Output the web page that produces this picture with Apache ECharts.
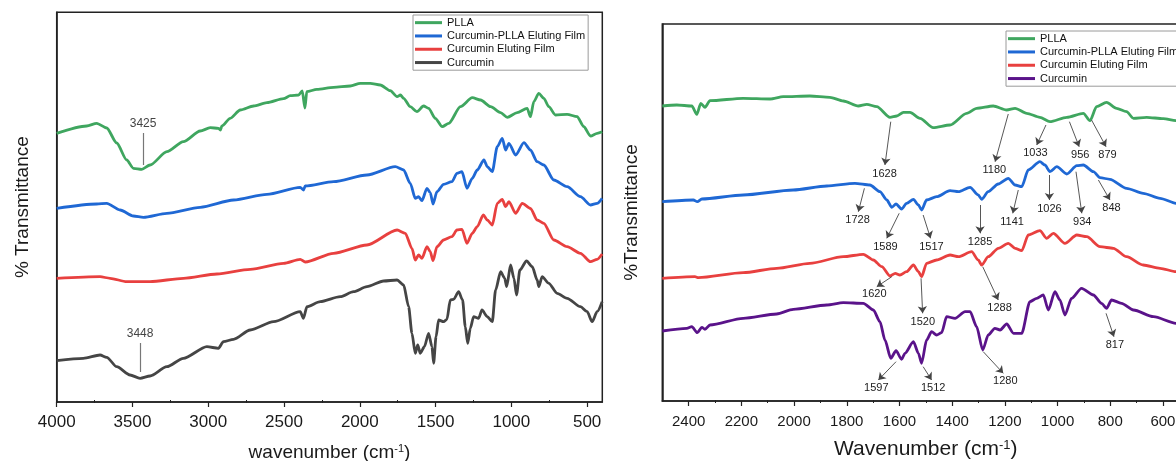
<!DOCTYPE html>
<html>
<head>
<meta charset="utf-8">
<script src="https://cdn.jsdelivr.net/npm/echarts@6/dist/echarts.min.js"></script>
<style>
html,body{margin:0;padding:0;background:#fff;}
#c{width:1176px;height:461px;}
</style>
</head>
<body>
<div id="c"></div>
<script>
// ---------- DATA (wavenumber cm-1, offset transmittance a.u.) ----------
const seriesNames = ['PLLA', 'Curcumin-PLLA Eluting Film', 'Curcumin Eluting Film', 'Curcumin'];

// Left panel (4000-400 cm-1)
const pllaL = [[4000,266.7],[3802,274],[3736,276.7],[3670,272],[3604,257],[3538,240],[3494,231.7],[3439,230.7],[3384,235],[3273,248.3],[3164,258.3],[3053,269],[2987,272.3],[2933,271.7],[2920,270],[2910,274],[2855,281.7],[2789,290],[2701,294],[2613,297.3],[2503,301.3],[2459,304.3],[2404,305],[2380,309],[2362,292],[2350,308.3],[2283,310.7],[2173,312.7],[2063,314],[1997,316.7],[1931,316.7],[1865,315],[1799,309.3],[1754,303.3],[1732,305],[1711,301.7],[1667,293.3],[1623,288.3],[1579,294],[1546,291.7],[1502,281.7],[1456,273.3],[1413,276.7],[1336,293.3],[1258,302.3],[1203,300],[1137,293.3],[1071,287.3],[1027,282.7],[962,287.3],[896,291.7],[874,283.3],[852,298.3],[819,306.7],[786,301.7],[753,293.3],[709,285],[632,285.7],[566,283.3],[522,273.3],[478,264],[434,266.7],[401,268.3]];
const filmCPL = [[4000,191.7],[3736,196],[3670,196.7],[3582,190],[3494,184],[3428,182.7],[3273,186.7],[3053,192.7],[2833,200],[2613,205.7],[2393,212.7],[2372,210],[2360,214],[2173,218.3],[1953,225],[1766,233.3],[1711,230],[1667,216.7],[1634,201.7],[1612,203.3],[1590,199.3],[1557,211.7],[1535,207.3],[1517,196],[1491,208.3],[1447,215.7],[1392,218.3],[1359,226.7],[1326,228.3],[1293,211.7],[1258,221.7],[1225,230],[1181,240],[1159,233.3],[1126,228.3],[1093,253.3],[1060,261.7],[1038,250],[1016,256.7],[972,245],[917,257.3],[874,250],[830,238.3],[786,235],[720,220],[632,213.3],[544,203.3],[478,195],[434,196.7],[401,201.7]];
const filmCL = [[4000,121.7],[3714,123.3],[3648,121.7],[3538,118.3],[3384,118.3],[3164,121.7],[2943,126],[2723,130.7],[2503,136.7],[2393,140.7],[2360,138],[2173,146.7],[1953,155],[1754,170],[1700,166.7],[1656,151.7],[1634,140],[1612,145],[1590,141.7],[1557,153.3],[1535,148.3],[1517,139.3],[1491,153.3],[1447,160],[1392,163.3],[1359,170],[1326,170.7],[1293,156.7],[1258,166.7],[1225,173.3],[1185,185],[1159,180],[1126,175],[1093,196.7],[1060,200.7],[1038,193.3],[1016,198.3],[972,186.7],[928,196.7],[874,191.7],[830,180],[786,176.7],[720,160],[632,153.3],[544,146.7],[478,138.3],[434,140.7],[401,146]];
const curL = [[4000,39.3],[3824,41.7],[3714,45],[3670,42.7],[3604,33.3],[3516,25],[3450,21.7],[3384,24],[3273,33.3],[3164,41.7],[3009,53.3],[2933,51.7],[2900,58.3],[2833,60.7],[2723,70],[2569,78.3],[2393,88.3],[2372,81.7],[2349,93.3],[2261,98.3],[2129,103.3],[2041,108.3],[1953,113.3],[1843,119],[1754,120],[1711,115],[1678,93.3],[1656,66.7],[1634,46.7],[1618,55],[1601,46.7],[1574,53.3],[1546,66.7],[1524,53.3],[1513,36.7],[1497,63.3],[1480,80],[1447,78.3],[1425,80.7],[1403,100],[1381,100.7],[1348,108.3],[1322,100],[1304,73.3],[1288,56.7],[1271,71.7],[1249,83.3],[1216,81.7],[1194,90],[1159,83.3],[1126,78.3],[1104,110],[1071,128.3],[1044,121.7],[1031,113.3],[1005,135],[983,121.7],[966,105],[944,130],[900,139],[862,133.3],[830,120],[819,113.3],[797,123.3],[753,116.7],[698,106.7],[632,101.7],[544,93.3],[500,88.3],[467,78.3],[434,88.3],[401,98.3]];

// Right panel (2500-500 cm-1)
const pllaR = [[2500,294],[2445,295],[2388,294],[2369,285.7],[2354,296.7],[2338,292.7],[2319,299.3],[2193,301.7],[2091,301],[2041,303.3],[1940,304],[1864,302.7],[1813,299],[1756,294],[1724,295.7],[1686,293.3],[1636,282.7],[1610,284],[1585,287.7],[1560,287.7],[1522,281.7],[1472,272.3],[1408,275],[1345,286.7],[1307,291.7],[1244,294],[1193,290],[1161,291.7],[1117,286.7],[1067,282.7],[1029,278.3],[965,282.7],[902,286.7],[877,279.3],[852,293.3],[814,297.7],[776,291.7],[738,288.3],[712,281.7],[662,282.7],[599,281.3],[550,279.3],[500,278]];
const filmCPR = [[2500,198.3],[2382,200],[2367,198.3],[2350,201],[2193,205],[2003,210],[1876,214],[1769,216.7],[1712,215],[1674,208.3],[1648,200],[1629,192.7],[1613,196],[1592,191],[1573,196.7],[1547,200.7],[1528,195],[1516,190],[1497,200],[1459,203.3],[1408,209.3],[1376,208.3],[1332,212.7],[1301,205],[1288,200.7],[1263,208.3],[1225,216],[1187,221.7],[1161,215],[1136,213.3],[1111,230],[1067,238.3],[1048,235],[1029,228.3],[1003,233.3],[965,226],[927,234.3],[902,235],[864,228.3],[839,222.3],[801,220.7],[738,211.7],[675,206.7],[611,201.7],[550,196.7],[500,193]];
const filmCR = [[2500,121.7],[2376,123.3],[2363,122.3],[2193,127.3],[2066,131.7],[1940,136.7],[1813,143.3],[1737,145.7],[1699,140],[1667,133.3],[1636,124],[1616,126.7],[1598,125],[1573,128.3],[1547,135],[1528,128.3],[1516,123.3],[1497,136.7],[1459,140],[1408,145],[1376,143.3],[1326,148.3],[1301,140],[1288,135],[1263,143.3],[1225,151.7],[1187,156.7],[1161,151.7],[1136,149.3],[1111,165],[1067,169.3],[1041,161.7],[1016,166.7],[972,156.7],[927,165],[889,163.3],[839,153.3],[788,151.7],[738,143.3],[675,135],[611,131.7],[550,128.3],[500,126]];
const curR = [[2500,69],[2407,71.7],[2388,73.3],[2367,67.3],[2350,72.7],[2338,70.7],[2319,75],[2193,81.7],[2066,86],[2003,90.7],[1876,95],[1813,97.3],[1737,96.7],[1699,90],[1674,78.3],[1655,60],[1633,41.7],[1613,49.3],[1592,40.7],[1579,46.7],[1547,58.3],[1528,46.7],[1516,36.7],[1497,60],[1478,68.3],[1459,65],[1440,67.3],[1421,83.3],[1389,81.7],[1351,88.3],[1332,88.3],[1307,73.3],[1284,50],[1263,65],[1238,71.7],[1218,70],[1193,76],[1167,66.7],[1136,66.7],[1105,98.3],[1079,101.7],[1054,105],[1035,90],[1010,108.3],[991,100],[972,85],[947,101.7],[909,111.7],[864,105],[833,96.7],[814,91.7],[795,100],[757,96.7],[712,90],[636,83.3],[550,76.7],[500,74]];

// Peak annotations: [label, wn1, T1, wn2, T2]
const peaksLeft = [['3425',3430,235,3430,267],['3448',3450,28,3450,57]];
const peaksRight = [
  ['1628',1633,278.3,1655,235],['1728',1733,211.7,1756,188.3],['1589',1601,186.7,1648,161.7],
  ['1517',1510,185,1482,161.7],['1180',1187,286,1237,238.3],['1033',1044,275,1079,255],
  ['956',955,278.3,918,253.3],['879',871,280,816,253.3],['1141',1149,210,1170,186.7],
  ['1026',1031,225,1031,200],['934',930,228.3,908,186.7],['848',845,220,801,200],
  ['1285',1294,195,1294,166.7],['1620',1629,123.3,1686,113.3],['1520',1518,121.7,1512,86.7],
  ['1288',1284,133.3,1225,100],['1597',1613,38.3,1680,20],['1512',1510,33.3,1478,20],
  ['1280',1282,48.3,1206,26.7],['817',816,86.7,786,63.3]
];

// Axis tick values
const leftMajor = [500,1000,1500,2000,2500,3000,3500,4000];
const leftMinor = [750,1250,1750,2250,2750,3250,3750];
const rightMajor = [600,800,1000,1200,1400,1600,1800,2000,2200,2400];
const rightMinor = [700,900,1100,1300,1500,1700,1900,2100,2300];

// ---------- STYLE ----------
const colorsL = ['#3fa65f', '#1f68d4', '#e8403f', '#454545'];
const colorsR = ['#3fa65f', '#1f68d4', '#e8403f', '#5a138a'];
const FONT = 'Liberation Sans, Arial, sans-serif';

const chart = echarts.init(document.getElementById('c'), null, {renderer: 'canvas'});

function xMain(grid, min, max, ticks, fs, margin, name, nameSize, gap) {
  return {
    type: 'value', gridIndex: grid, min: min, max: max, inverse: true, position: 'bottom',
    axisLine: {show: true, onZero: false, lineStyle: {color: '#222', width: 1.5}},
    axisTick: {show: true, customValues: ticks, length: 5, lineStyle: {color: '#222', width: 1.2}},
    axisLabel: {show: true, customValues: ticks, fontSize: fs, color: '#1a1a1a', fontFamily: FONT, margin: margin,
      formatter: v => String(v)},
    splitLine: {show: false},
    name: name, nameLocation: 'middle', nameGap: gap,
    nameTextStyle: {fontSize: nameSize, color: '#1a1a1a', fontFamily: FONT,
      rich: {sup: {fontSize: Math.round(nameSize * 0.6), verticalAlign: 'top', color: '#1a1a1a', fontFamily: FONT}}}
  };
}
function xMinor(grid, min, max, ticks) {
  return {
    type: 'value', gridIndex: grid, min: min, max: max, inverse: true, position: 'bottom',
    axisLine: {show: false}, axisLabel: {show: false}, splitLine: {show: false},
    axisTick: {show: true, customValues: ticks, length: 3, lineStyle: {color: '#222', width: 1}}
  };
}
function yAx(grid, min, max, name, gap) {
  return {
    type: 'value', gridIndex: grid, min: min, max: max,
    axisLine: {show: true, lineStyle: {color: '#222', width: 1.5}},
    axisTick: {show: false}, axisLabel: {show: false}, splitLine: {show: false},
    name: name, nameLocation: 'middle', nameGap: gap, nameRotate: 90,
    nameTextStyle: {fontSize: 19, color: '#1a1a1a', fontFamily: FONT}
  };
}
function lineSeries(name, data, color, xi, yi) {
  return {
    type: 'line', name: name, data: data, xAxisIndex: xi, yAxisIndex: yi,
    showSymbol: false, symbol: 'none', smooth: 0.25, smoothMonotone: 'x',
    lineStyle: {color: color, width: 2.8}, itemStyle: {color: color},
    silent: true, animation: false, z: 3
  };
}
function annot(items, xi, yi, opts) {
  return {
    type: 'line', name: 'ann' + xi, data: [], xAxisIndex: xi, yAxisIndex: yi, silent: true, animation: false,
    markLine: {
      silent: true, animation: false, symbol: opts.symbol, symbolSize: opts.symbolSize, precision: 1,
      lineStyle: {color: opts.color, width: opts.width, type: 'solid'},
      itemStyle: {color: opts.color},
      emphasis: {disabled: true},
      label: {show: true, position: 'end', distance: opts.distance, formatter: p => p.name,
        fontSize: opts.fontSize, color: opts.textColor, fontFamily: FONT,
        align: 'center', verticalAlign: opts.vAlign},
      data: items.map(a => [{name: a[0], coord: [a[1], a[2]]}, {coord: [a[3], a[4]]}])
    }
  };
}
function legendFor(left, top, colors) {
  return {
    left: left, top: top, orient: 'vertical', icon: 'rect', itemWidth: 27, itemHeight: 3, itemGap: 0,
    padding: [1, 3, 1, 2], borderColor: '#9a9a9a', borderWidth: 1, backgroundColor: '#fff',
    selectedMode: false,
    textStyle: {fontSize: 11, lineHeight: 13.3, color: '#111', fontFamily: FONT},
    data: seriesNames.map((n, i) => ({name: n, itemStyle: {color: colors[i]}}))
  };
}

const option = {
  backgroundColor: '#fff',
  animation: false,
  grid: [
    {left: 56.7, top: 12.3, right: 573.7, bottom: 59, show: true, borderColor: '#222', borderWidth: 1.5,
      containLabel: false, outerBoundsMode: 'none'},
    {left: 662.3, top: 24, right: -13.3, bottom: 60, show: true, borderColor: '#222', borderWidth: 1.5,
      containLabel: false, outerBoundsMode: 'none'}
  ],
  legend: [legendFor(413, 15, colorsL), legendFor(1006, 31, colorsR)],
  xAxis: [
    xMain(0, 400, 4000, leftMajor, 17, 12, 'wavenumber (cm{sup|-1})', 19, 41),
    xMinor(0, 400, 4000, leftMinor),
    xMain(1, 500, 2500, rightMajor, 15, 13, 'Wavenumber (cm{sup|-1})', 21, 38),
    xMinor(1, 500, 2500, rightMinor)
  ],
  yAxis: [
    yAx(0, -2, 387.7, '% Transmittance', 24),
    yAx(1, -1, 376, '%Transmittance', 21)
  ],
  series: [
    lineSeries(seriesNames[0], pllaL, colorsL[0], 0, 0),
    lineSeries(seriesNames[1], filmCPL, colorsL[1], 0, 0),
    lineSeries(seriesNames[2], filmCL, colorsL[2], 0, 0),
    lineSeries(seriesNames[3], curL, colorsL[3], 0, 0),
    lineSeries(seriesNames[0], pllaR, colorsR[0], 2, 1),
    lineSeries(seriesNames[1], filmCPR, colorsR[1], 2, 1),
    lineSeries(seriesNames[2], filmCR, colorsR[2], 2, 1),
    lineSeries(seriesNames[3], curR, colorsR[3], 2, 1),
    annot(peaksLeft, 0, 0, {symbol: ['none', 'none'], symbolSize: 0, color: '#777', width: 1.2,
      distance: 3, fontSize: 12, textColor: '#444', vAlign: 'bottom'}),
    annot(peaksRight, 2, 1, {symbol: ['none', 'arrow'], symbolSize: 7, color: '#444', width: 0.9,
      distance: 3, fontSize: 11, textColor: '#222', vAlign: 'top'})
  ]
};
chart.setOption(option);
</script>
</body>
</html>
